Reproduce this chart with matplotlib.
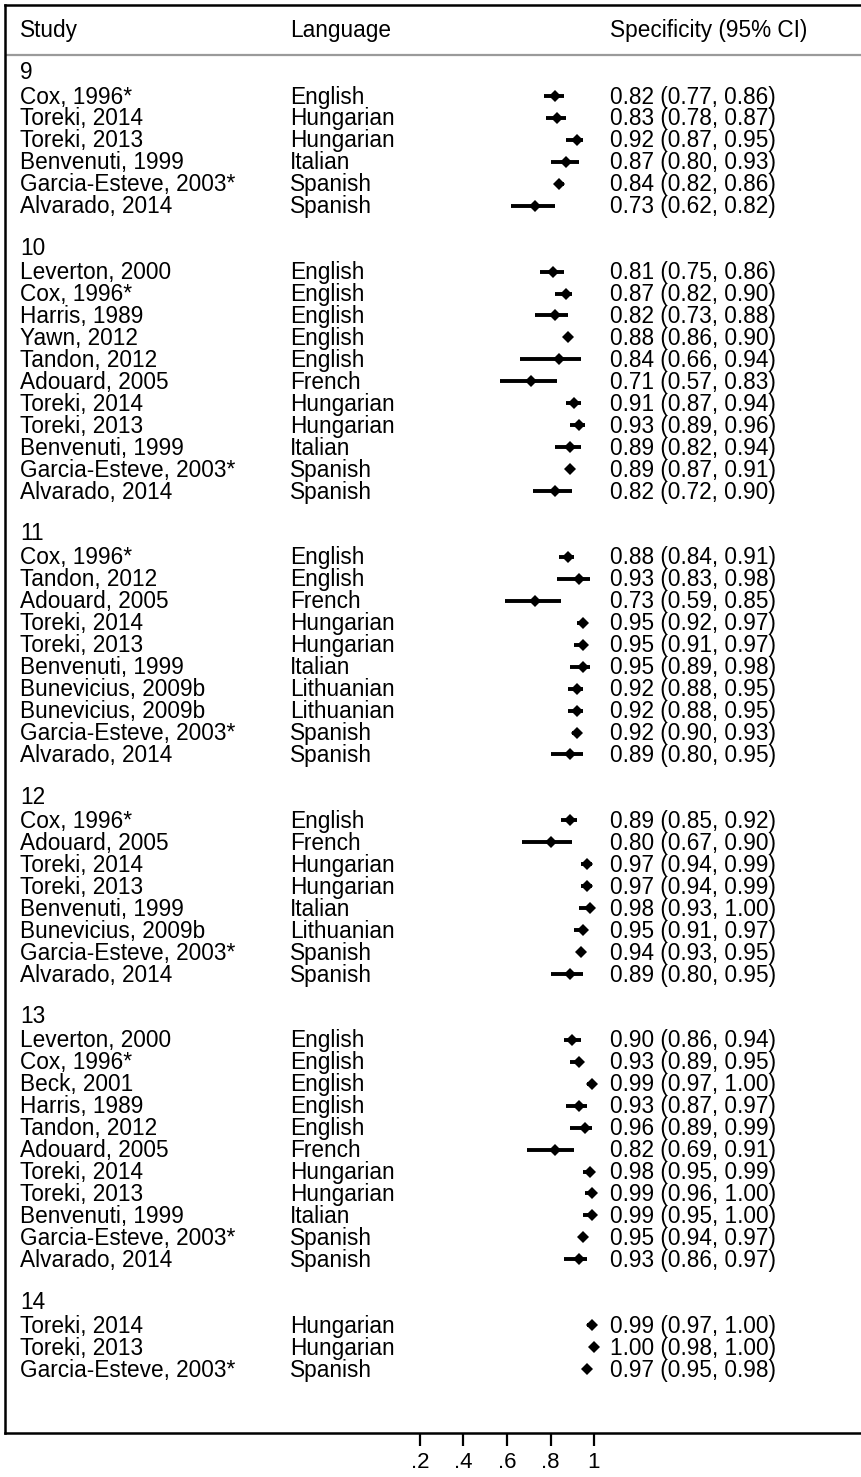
import numpy as np
import matplotlib.pyplot as plt
from matplotlib.transforms import blended_transform_factory

plt.rcParams['font.family'] = ['Liberation Sans', 'DejaVu Sans']

# cut-off groups and the number of studies in each
groups = ['9', '10', '11', '12', '13', '14']
group_sizes = [6, 11, 10, 8, 11, 3]

studies = [
    'Cox, 1996*', 'Toreki, 2014', 'Toreki, 2013', 'Benvenuti, 1999', 'Garcia-Esteve, 2003*', 'Alvarado, 2014',
    'Leverton, 2000', 'Cox, 1996*', 'Harris, 1989', 'Yawn, 2012', 'Tandon, 2012', 'Adouard, 2005',
    'Toreki, 2014', 'Toreki, 2013', 'Benvenuti, 1999', 'Garcia-Esteve, 2003*', 'Alvarado, 2014',
    'Cox, 1996*', 'Tandon, 2012', 'Adouard, 2005', 'Toreki, 2014', 'Toreki, 2013', 'Benvenuti, 1999',
    'Bunevicius, 2009b', 'Bunevicius, 2009b', 'Garcia-Esteve, 2003*', 'Alvarado, 2014',
    'Cox, 1996*', 'Adouard, 2005', 'Toreki, 2014', 'Toreki, 2013', 'Benvenuti, 1999',
    'Bunevicius, 2009b', 'Garcia-Esteve, 2003*', 'Alvarado, 2014',
    'Leverton, 2000', 'Cox, 1996*', 'Beck, 2001', 'Harris, 1989', 'Tandon, 2012', 'Adouard, 2005',
    'Toreki, 2014', 'Toreki, 2013', 'Benvenuti, 1999', 'Garcia-Esteve, 2003*', 'Alvarado, 2014',
    'Toreki, 2014', 'Toreki, 2013', 'Garcia-Esteve, 2003*',
]
languages = [
    'English', 'Hungarian', 'Hungarian', 'Italian', 'Spanish', 'Spanish',
    'English', 'English', 'English', 'English', 'English', 'French',
    'Hungarian', 'Hungarian', 'Italian', 'Spanish', 'Spanish',
    'English', 'English', 'French', 'Hungarian', 'Hungarian', 'Italian',
    'Lithuanian', 'Lithuanian', 'Spanish', 'Spanish',
    'English', 'French', 'Hungarian', 'Hungarian', 'Italian',
    'Lithuanian', 'Spanish', 'Spanish',
    'English', 'English', 'English', 'English', 'English', 'French',
    'Hungarian', 'Hungarian', 'Italian', 'Spanish', 'Spanish',
    'Hungarian', 'Hungarian', 'Spanish',
]
spec = [
    0.82, 0.83, 0.92, 0.87, 0.84, 0.73,
    0.81, 0.87, 0.82, 0.88, 0.84, 0.71, 0.91, 0.93, 0.89, 0.89, 0.82,
    0.88, 0.93, 0.73, 0.95, 0.95, 0.95, 0.92, 0.92, 0.92, 0.89,
    0.89, 0.80, 0.97, 0.97, 0.98, 0.95, 0.94, 0.89,
    0.90, 0.93, 0.99, 0.93, 0.96, 0.82, 0.98, 0.99, 0.99, 0.95, 0.93,
    0.99, 1.00, 0.97,
]
ci_low = [
    0.77, 0.78, 0.87, 0.80, 0.82, 0.62,
    0.75, 0.82, 0.73, 0.86, 0.66, 0.57, 0.87, 0.89, 0.82, 0.87, 0.72,
    0.84, 0.83, 0.59, 0.92, 0.91, 0.89, 0.88, 0.88, 0.90, 0.80,
    0.85, 0.67, 0.94, 0.94, 0.93, 0.91, 0.93, 0.80,
    0.86, 0.89, 0.97, 0.87, 0.89, 0.69, 0.95, 0.96, 0.95, 0.94, 0.86,
    0.97, 0.98, 0.95,
]
ci_high = [
    0.86, 0.87, 0.95, 0.93, 0.86, 0.82,
    0.86, 0.90, 0.88, 0.90, 0.94, 0.83, 0.94, 0.96, 0.94, 0.91, 0.90,
    0.91, 0.98, 0.85, 0.97, 0.97, 0.98, 0.95, 0.95, 0.93, 0.95,
    0.92, 0.90, 0.99, 0.99, 1.00, 0.97, 0.95, 0.95,
    0.94, 0.95, 1.00, 0.97, 0.99, 0.91, 0.99, 1.00, 1.00, 0.97, 0.97,
    1.00, 1.00, 0.98,
]
x_ticks = [0.2, 0.4, 0.6, 0.8, 1.0]
x_ticklabels = ['.2', '.4', '.6', '.8', '1']

W, H = 862, 1477
fig = plt.figure(figsize=(W / 100, H / 100), dpi=100)
left_px, top_px, bottom_px = 5, 5, 1433
ax = fig.add_axes([left_px / W, 1 - bottom_px / H, 1 - left_px / W, (bottom_px - top_px) / H])

# x: specificity scale, y: row index (group header, studies, blank line)
x0_px, px_per_unit = 376.5, 217.5
ax.set_xlim((left_px - x0_px) / px_per_unit, (W - x0_px) / px_per_unit)
row0_px, row_px = 74.0, 21.95
ax.set_ylim((bottom_px - row0_px) / row_px, (top_px - row0_px) / row_px)

# assign rows
rows = []
group_rows = []
r = 0
for g, n in zip(groups, group_sizes):
    group_rows.append(r)
    rows.extend(range(r + 1, r + 1 + n))
    r += n + 2
rows = np.array(rows)

tr = blended_transform_factory(ax.transAxes, ax.transData)
col_study = (20 - left_px) / (W - left_px)
col_lang = (290 - left_px) / (W - left_px)
col_ci = (610 - left_px) / (W - left_px)
fs = 16.3

header_y = (31 - row0_px) / row_px
for x, txt in [(col_study, 'Study'), (col_lang, 'Language'), (col_ci, 'Specificity (95% CI)')]:
    ax.text(x, header_y, txt, transform=tr, fontsize=fs, va='center', ha='left')
ax.axhline((55 - row0_px) / row_px, color='#9a9a9a', lw=1.6)

for g, gr in zip(groups, group_rows):
    ax.text(col_study, gr - 0.05, g, transform=tr, fontsize=fs, va='center', ha='left')

for y, s, lang, est, lo, hi in zip(rows, studies, languages, spec, ci_low, ci_high):
    ax.text(col_study, y + 0.05, s, transform=tr, fontsize=fs, va='center', ha='left')
    ax.text(col_lang, y + 0.05, lang, transform=tr, fontsize=fs, va='center', ha='left')
    ax.text(col_ci, y + 0.05, f'{est:.2f} ({lo:.2f}, {hi:.2f})', transform=tr,
            fontsize=fs, va='center', ha='left')

ax.hlines(rows, ci_low, ci_high, color='black', lw=2.8)
ax.plot(spec, rows, 'D', color='black', markersize=6, markeredgewidth=0)

ax.spines['right'].set_visible(False)
for side in ['left', 'top', 'bottom']:
    ax.spines[side].set_linewidth(1.8)
ax.set_yticks([])
ax.set_xticks(x_ticks)
ax.set_xticklabels(x_ticklabels)
ax.tick_params(axis='x', direction='out', length=9, width=1.6, pad=5, labelsize=16)

fig.savefig('out.png', dpi=100)
